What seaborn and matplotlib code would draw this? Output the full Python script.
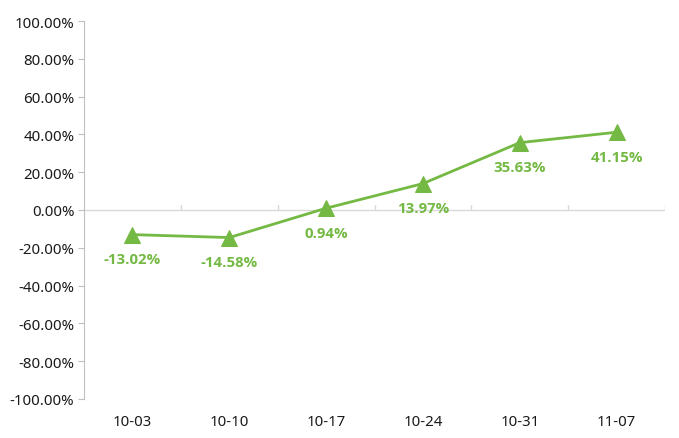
import matplotlib
matplotlib.use("Agg")
import matplotlib.pyplot as plt
import seaborn as sns
import pandas as pd
from matplotlib.ticker import PercentFormatter

dates = ["10-03", "10-10", "10-17", "10-24", "10-31", "11-07"]
returns = [-13.02, -14.58, 0.94, 13.97, 35.63, 41.15]

green = "#74b943"

sns.set_style("white")
plt.rcParams["font.family"] = ["Noto Sans", "DejaVu Sans"]
plt.rcParams["axes.unicode_minus"] = False

df = pd.DataFrame({"date": dates, "ret": returns})

fig = plt.figure(figsize=(6.79, 4.39), dpi=100)
ax = fig.add_axes([84 / 679, 1 - 400 / 439, (665 - 84) / 679, (400 - 22) / 439])

sns.lineplot(data=df, x="date", y="ret", ax=ax, color=green, linewidth=2,
             marker="^", markersize=11, markeredgecolor=green, sort=False)

for i, v in enumerate(returns):
    ax.annotate(f"{v:.2f}%", (i, v), xytext=(0, -12.5), textcoords="offset points",
                ha="center", va="top", color=green, fontsize=10.8, fontweight="bold",
                family=["Open Sans", "DejaVu Sans"])

ax.set_ylim(-100, 100)
ax.set_yticks(range(-100, 101, 20))
ax.yaxis.set_major_formatter(PercentFormatter(decimals=2))
ax.set_xlim(-0.5, len(dates) - 0.5)
ax.set_xlabel("")
ax.set_ylabel("")

# category axis drawn on the zero line
ax.axhline(0, color="#d9d9d9", linewidth=1, zorder=0)
for b in range(len(dates)):
    ax.plot([b + 0.5, b + 0.5], [0, 2.6], color="#d9d9d9", linewidth=1, zorder=0)

for s in ["top", "right", "bottom"]:
    ax.spines[s].set_visible(False)
ax.spines["left"].set_color("#bfbfbf")
ax.tick_params(axis="y", left=True, length=4, color="#bfbfbf", labelsize=10.8, pad=3)
ax.tick_params(axis="x", bottom=False, labelsize=10.8, pad=7)
for t in ax.get_yticklabels() + ax.get_xticklabels():
    t.set_color("#1a1a1a")

fig.savefig("out.png", dpi=100)
